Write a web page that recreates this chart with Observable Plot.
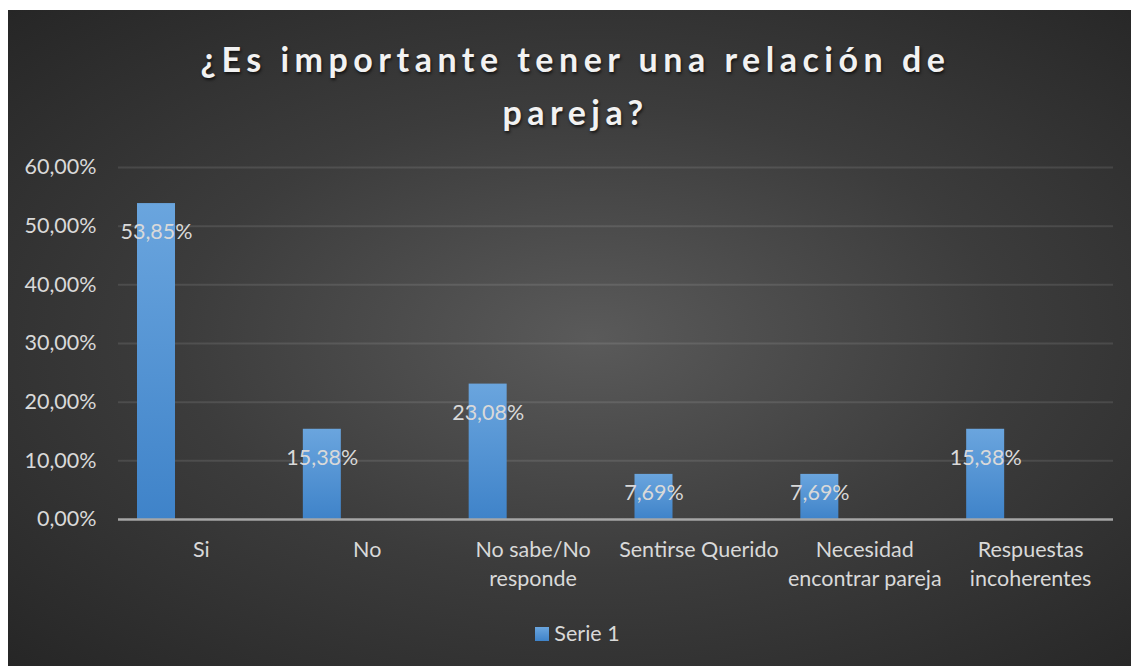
<!DOCTYPE html>
<html>
<head>
<meta charset="utf-8">
<script src="https://cdn.jsdelivr.net/npm/d3@7"></script>
<script src="https://cdn.jsdelivr.net/npm/@observablehq/plot@0.6"></script>
<style>
  html, body { margin: 0; padding: 0; background: #ffffff; overflow: hidden; }
  #chart {
    position: absolute; left: 8px; top: 10px; width: 1123px; height: 656px;
    background: radial-gradient(ellipse farthest-corner at 52% 50%, #5a5a5a 0%, #3c3c3c 50%, #262626 100%);
    font-family: Lato, "Open Sans", sans-serif;
  }
  #title {
    height: 145px; box-sizing: border-box; padding-top: 22px;
    text-align: center; color: #f2f2f2; font-weight: bold; font-size: 34px;
    letter-spacing: 5.5px; line-height: 53px;
    text-shadow: 1px 2px 3px rgba(0,0,0,0.65);
    padding-left: 12px;
  }
  #legend {
    height: 61px; box-sizing: border-box; padding-top: 15px; padding-left: 16px;
    text-align: center; color: #d9d9d9; font-size: 21.5px; line-height: 26px;
  }
  #legend .sw {
    display: inline-block; width: 14px; height: 14px; vertical-align: 0px; margin-right: 5px;
    background: linear-gradient(#6aa5de, #3f83c9);
  }
  svg { display: block; }
</style>
</head>
<body>
<div id="chart">
  <div id="title">¿Es importante tener una relación de<br>pareja?</div>
  <div id="plot"></div>
  <div id="legend"><span class="sw"></span>Serie 1</div>
</div>
<script>
const categories = ["Si", "No", "No sabe/No responde", "Sentirse Querido", "Necesidad encontrar pareja", "Respuestas incoherentes"];
const tickLabels = ["Si", "No", "No sabe/No\nresponde", "Sentirse Querido", "Necesidad\nencontrar pareja", "Respuestas\nincoherentes"];
const values = [53.85, 15.38, 23.08, 7.69, 7.69, 15.38];
const yTicks = [0, 10, 20, 30, 40, 50, 60];
const seriesName = "Serie 1";

const data = categories.map((c, i) => ({category: c, value: values[i]}));
const fmt = v => v.toFixed(2).replace(".", ",") + "%";

const W = 1123, H = 450, ML = 110, MR = 18;
const band = (W - ML - MR) / categories.length;
const barL = 19, barW = 38;
const labelDx = barL + barW / 2 - band / 2;
const FS = 21.5;

const plot = Plot.plot({
  width: W, height: H,
  marginLeft: ML, marginRight: MR, marginTop: 12, marginBottom: 86,
  style: {background: "transparent", fontFamily: "Lato, 'Open Sans', sans-serif", color: "#d9d9d9", overflow: "visible"},
  x: {domain: categories, padding: 0, round: false, label: null},
  y: {domain: [0, 60], label: null},
  marks: [
    () => {
      const s = d3.create("svg:defs");
      const g = s.append("linearGradient").attr("id", "barGrad").attr("x1", 0).attr("x2", 0).attr("y1", 0).attr("y2", 1);
      g.append("stop").attr("offset", "0%").attr("stop-color", "#6aa5de");
      g.append("stop").attr("offset", "100%").attr("stop-color", "#3f83c9");
      const f = s.append("filter").attr("id", "shadow").attr("x", "-30%").attr("y", "-10%").attr("width", "160%").attr("height", "120%");
      f.append("feDropShadow").attr("dx", 0).attr("dy", 2).attr("stdDeviation", 3).attr("flood-color", "#000").attr("flood-opacity", 0.45);
      return s.node();
    },
    Plot.ruleY(yTicks.filter(t => t > 0), {stroke: "#ffffff", strokeOpacity: 0.1, strokeWidth: 2}),
    Plot.axisY({ticks: yTicks, tickSize: 0, tickPadding: 22, tickFormat: fmt, fontSize: FS, fill: "#d9d9d9", label: null}),
    Plot.barY(data, {x: "category", y: "value", fill: "url(#barGrad)", insetLeft: barL, insetRight: band - barL - barW, style: "filter:url(#shadow)"}),
    Plot.ruleY([0], {stroke: "#a6a6a6", strokeWidth: 2.5}),
    Plot.axisX({tickSize: 0, tickPadding: 17, tickFormat: (d, i) => tickLabels[i], fontSize: FS, fill: "#d9d9d9", lineHeight: 1.35, label: null}),
    Plot.text(data.filter(d => d.value >= 10), {x: "category", y: "value", text: d => fmt(d.value), dx: labelDx, dy: 29, fontSize: FS, fill: "#d9d9d9"}),
    Plot.text(data.filter(d => d.value < 10), {x: "category", y: "value", text: d => fmt(d.value), dx: labelDx, dy: 19, fontSize: FS, fill: "#d9d9d9"})
  ]
});
document.getElementById("plot").appendChild(plot);
</script>
</body>
</html>
